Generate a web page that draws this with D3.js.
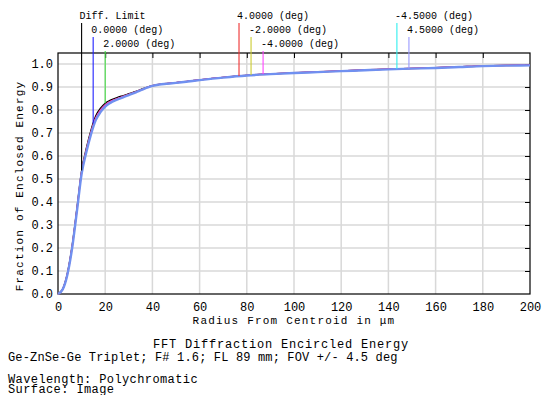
<!DOCTYPE html>
<html lang="en">
<head>
<meta charset="UTF-8">
<title>FFT Diffraction Encircled Energy</title>
<script src="https://cdn.jsdelivr.net/npm/d3@7/dist/d3.min.js"></script>
<style>
  body { margin: 0; background: #fff; }
  text { font-family: "Liberation Mono", "Courier New", monospace; fill: #000; }
</style>
</head>
<body>
<svg id="mainsvg" width="549" height="395"></svg>
<script>
// radius in micrometres
const radius  = [0, 2, 4, 6, 8, 10, 12, 14, 16, 18, 20, 22, 25, 28, 30, 33, 36, 38, 40, 43, 46, 50, 55, 60, 70, 80, 90, 100, 110, 120, 130, 140, 150, 160, 170, 180, 190, 200];
// enclosed energy
const diffEE  = [0, 0.022, 0.092, 0.212, 0.372, 0.537, 0.634, 0.714, 0.775, 0.808, 0.83, 0.842, 0.854, 0.864, 0.871, 0.881, 0.893, 0.9, 0.906, 0.912, 0.915, 0.919, 0.925, 0.931, 0.942, 0.951, 0.957, 0.962, 0.966, 0.970, 0.974, 0.978, 0.981, 0.984, 0.988, 0.992, 0.994, 0.995];
const fieldEE = [0, 0.021, 0.088, 0.206, 0.365, 0.53, 0.625, 0.704, 0.765, 0.799, 0.822, 0.836, 0.849, 0.86, 0.868, 0.879, 0.891, 0.899, 0.906, 0.912, 0.915, 0.919, 0.925, 0.931, 0.942, 0.951, 0.957, 0.962, 0.966, 0.970, 0.974, 0.978, 0.981, 0.984, 0.988, 0.992, 0.994, 0.995];
const outerEE = [0, 0.02, 0.085, 0.2, 0.358, 0.522, 0.616, 0.695, 0.756, 0.791, 0.815, 0.83, 0.845, 0.857, 0.865, 0.877, 0.89, 0.898, 0.905, 0.911, 0.914, 0.918, 0.924, 0.930, 0.941, 0.950, 0.956, 0.961, 0.965, 0.969, 0.973, 0.977, 0.980, 0.983, 0.987, 0.991, 0.993, 0.994];

// marker labels: radius where each field is marked, and text
const markerNames  = ['Diff. Limit', '0.0000 (deg)', '2.0000 (deg)', '4.0000 (deg)', '-2.0000 (deg)', '-4.0000 (deg)', '-4.5000 (deg)', '4.5000 (deg)'];
const markerRadius = [10.0, 14.9, 20.0, 76.7, 81.8, 86.9, 143.6, 148.7];
const markerColors = ['#000000', '#2020ff', '#44dd44', '#ee3030', '#cccc30', '#ff44ff', '#30eeee', '#9a9aff'];
const markerTier   = [0, 1, 2, 0, 1, 2, 0, 1];

const xTicks = d3.range(0, 201, 20);
const yTicks = d3.range(0, 11).map(d => d / 10);

const mainsvg = d3.select('#mainsvg');
const margin = {top: 53, right: 19, bottom: 101, left: 58};
const width = +mainsvg.attr('width'), height = +mainsvg.attr('height');
const innerWidth = width - margin.left - margin.right;
const innerHeight = height - margin.top - margin.bottom;

const xScale = d3.scaleLinear().domain([0, 200]).range([0, innerWidth]);
const yScale = d3.scaleLinear().domain([0, 1.048]).range([innerHeight, 0]);

const g = mainsvg.append('g').attr('transform', `translate(${margin.left}, ${margin.top})`);

// grid
g.append('g').selectAll('line').data(xTicks.slice(1, -1)).join('line')
  .attr('x1', d => xScale(d)).attr('x2', d => xScale(d))
  .attr('y1', 0).attr('y2', innerHeight)
  .attr('stroke', '#d8d8d8').attr('stroke-width', 1.5);
g.append('g').selectAll('line').data(yTicks.slice(1)).join('line')
  .attr('x1', 0).attr('x2', innerWidth)
  .attr('y1', d => yScale(d)).attr('y2', d => yScale(d))
  .attr('stroke', '#d8d8d8').attr('stroke-width', 1.5);

// axes
const xAxis = g.append('g').attr('transform', `translate(0, ${innerHeight})`)
  .call(d3.axisBottom(xScale).tickValues(xTicks).tickSize(0).tickPadding(8).tickFormat(d3.format('d')));
const yAxis = g.append('g')
  .call(d3.axisLeft(yScale).tickValues(yTicks).tickSize(0).tickPadding(5).tickFormat(d3.format('.1f')));
[xAxis, yAxis].forEach(a => {
  a.select('.domain').remove();
  a.selectAll('text').attr('font-size', 12);
});
g.append('g').call(d3.axisTop(xScale).tickValues(xTicks.slice(1, -1)).tickSize(-5).tickFormat(''))
  .call(s => s.select('.domain').remove());
g.append('g').attr('transform', `translate(${innerWidth}, 0)`)
  .call(d3.axisRight(yScale).tickValues(yTicks.slice(1)).tickSize(-5).tickFormat(''))
  .call(s => s.select('.domain').remove());
g.append('rect').attr('width', innerWidth).attr('height', innerHeight)
  .attr('fill', 'none').attr('stroke', '#000').attr('stroke-width', 1.2);

// curves
const line = d3.line().x((d, i) => xScale(radius[i])).y(d => yScale(d)).curve(d3.curveMonotoneX);
const curves = [
  {values: diffEE,  color: '#000000', w: 1.3},
  {values: fieldEE, color: '#ee3030', w: 1.5},
  {values: fieldEE, color: '#ff30d0', w: 1.3},
  {values: outerEE, color: '#7090f0', w: 2.4}
];
g.append('g').selectAll('path').data(curves).join('path')
  .attr('d', d => line(d.values))
  .attr('fill', 'none').attr('stroke', d => d.color).attr('stroke-width', d => d.w);

// markers
const eeAt = (vals, r) => d3.scaleLinear().domain(radius).range(vals)(r);
const mk = g.append('g');
markerNames.forEach((name, i) => {
  const x = xScale(markerRadius[i]);
  const top = 23 + markerTier[i] * 14 - margin.top;
  const ee = eeAt(i === 0 ? diffEE : diffEE, markerRadius[i]);
  mk.append('line').attr('x1', x).attr('x2', x).attr('y1', top).attr('y2', yScale(ee))
    .attr('stroke', markerColors[i]).attr('stroke-width', 1.1);
  mk.append('text').attr('x', x - 2).attr('y', top - 4).attr('font-size', 10).text(name);
});

// axis titles
mainsvg.append('text').attr('x', margin.left + innerWidth / 2).attr('y', 324)
  .attr('text-anchor', 'middle').attr('font-size', 11).attr('letter-spacing', 1.2)
  .text('Radius From Centroid in μm');
mainsvg.append('text').attr('transform', 'translate(23, 186) rotate(-90)')
  .attr('text-anchor', 'middle').attr('font-size', 11).attr('letter-spacing', 1.2)
  .text('Fraction of Enclosed Energy');

// caption
mainsvg.append('text').attr('x', 281).attr('y', 348).attr('text-anchor', 'middle')
  .attr('font-size', 12).attr('letter-spacing', 0.8).text('FFT Diffraction Encircled Energy');
mainsvg.append('text').attr('x', 8).attr('y', 361).attr('font-size', 12).attr('letter-spacing', 0.15)
  .text('Ge-ZnSe-Ge Triplet; F# 1.6; FL 89 mm; FOV +/- 4.5 deg');
mainsvg.append('text').attr('x', 8).attr('y', 383).attr('font-size', 12).attr('letter-spacing', 0.4)
  .text('Wavelength: Polychromatic');
mainsvg.append('text').attr('x', 8).attr('y', 393).attr('font-size', 12).attr('letter-spacing', 0.4)
  .text('Surface: Image');
</script>
</body>
</html>
